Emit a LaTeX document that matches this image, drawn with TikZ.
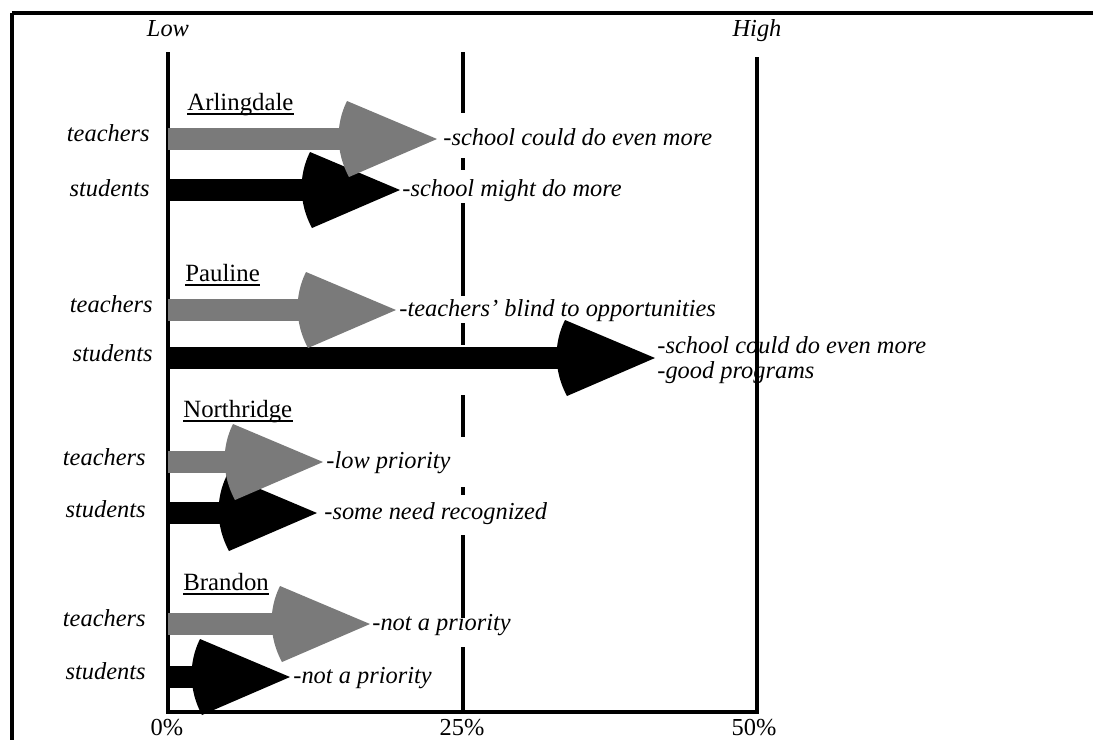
\documentclass[tikz,border=0pt]{standalone}
\usepackage{fontspec}
\setmainfont{Liberation Serif}
% one unit = one half point, y grows downward
\newcommand\chartarrow[4]{% #1 fill style, #2 row y, #3 tip x, #4 name
  \coordinate (#4-start) at (168,#2);
  \coordinate (#4-tip) at (#3,#2);
  \fill[#1] (#4-start) ++(0,-11) rectangle (#3-88,#2+11);
  \fill[#1] (#3-90,#2-38) .. controls (#3-102,#2-14) and (#3-101,#2+14) .. (#3-88,#2+38)
     -- (#4-tip) -- cycle;
}
\begin{document}
\begin{tikzpicture}[x=0.5pt,y=-0.5pt,
  lbl/.style={font=\fontsize{12.2}{14}\selectfont\itshape, inner sep=0pt},
  note/.style={lbl, anchor=base west},
  rowlbl/.style={lbl, anchor=base east},
  heading/.style={font=\fontsize{12.4}{14}\selectfont, inner sep=0pt, anchor=base west},
  scalelbl/.style={font=\fontsize{12.2}{14}\selectfont, inner sep=0pt, anchor=base},
  rule/.style={line width=1.8pt},
  frame/.style={line width=1.6pt},
  tone/.style={fill=black!52},
  dark/.style={fill=black}]
\useasboundingbox (0,0) rectangle (1093,740);

% outer frame (top and left edges)
\draw[frame] (12,13) -- (1093,13);
\draw[frame] (12,13) -- (12,740);

% scale lines
\draw[rule] (168,52) -- (168,712) -- (757,712) -- (757,57);
\draw[rule, line width=1.7pt]
  (463,52) -- (463,113)
  (463,158) -- (463,170)
  (463,203) -- (463,296)
  (463,323) -- (463,345)
  (463,395) -- (463,437)
  (463,487) -- (463,495)
  (463,535) -- (463,618)
  (463,647) -- (463,712);

% scale labels
\node[lbl, anchor=base] (low) at (168,36) {Low};
\node[lbl, anchor=base] (high) at (757,36) {High};
\node[scalelbl] (p0) at (167,735) {0\%};
\node[scalelbl] (p25) at (462,735) {25\%};
\node[scalelbl] (p50) at (754,735) {50\%};

% arrows: students first, teachers on top
\chartarrow{dark}{190}{400}{aS}
\chartarrow{tone}{139}{437}{aT}
\chartarrow{dark}{358}{655}{pS}
\chartarrow{tone}{310}{396}{pT}
\chartarrow{dark}{513}{317}{nS}
\chartarrow{tone}{462}{323}{nT}
\chartarrow{dark}{677}{290}{bS}
\chartarrow{tone}{624}{370}{bT}

% school headings with underlines
\foreach \nm/\txt/\x/\y in {hA/Arlingdale/187/110, hP/Pauline/185/281,
                            hN/Northridge/183/417, hB/Brandon/183/590}{
  \node[heading] (\nm) at (\x,\y) {\txt};
  \draw[line width=1pt] ([yshift=-1.9pt]\nm.base west) -- ([yshift=-1.9pt]\nm.base east);
}

% row labels
\node[rowlbl] (aTl) at (150,141) {teachers};
\node[rowlbl] (aSl) at (150,196) {students};
\node[rowlbl] (pTl) at (153,312) {teachers};
\node[rowlbl] (pSl) at (153,361) {students};
\node[rowlbl] (nTl) at (146,465) {teachers};
\node[rowlbl] (nSl) at (146,517) {students};
\node[rowlbl] (bTl) at (146,626) {teachers};
\node[rowlbl] (bSl) at (146,679) {students};

% comments at the arrow tips
\node[note] (aTn) at (443,145) {-school could do even more};
\node[note] (aSn) at (402,196) {-school might do more};
\node[note] (pTn) at (399,316) {-teachers' blind to opportunities};
\node[note] (pSn1) at (657,353) {-school could do even more};
\node[note] (pSn2) at (657,378) {-good programs};
\node[note] (nTn) at (326,468) {-low priority};
\node[note] (nSn) at (324,519) {-some need recognized};
\node[note] (bTn) at (372,630) {-not a priority};
\node[note] (bSn) at (293,683) {-not a priority};
\end{tikzpicture}
\end{document}
